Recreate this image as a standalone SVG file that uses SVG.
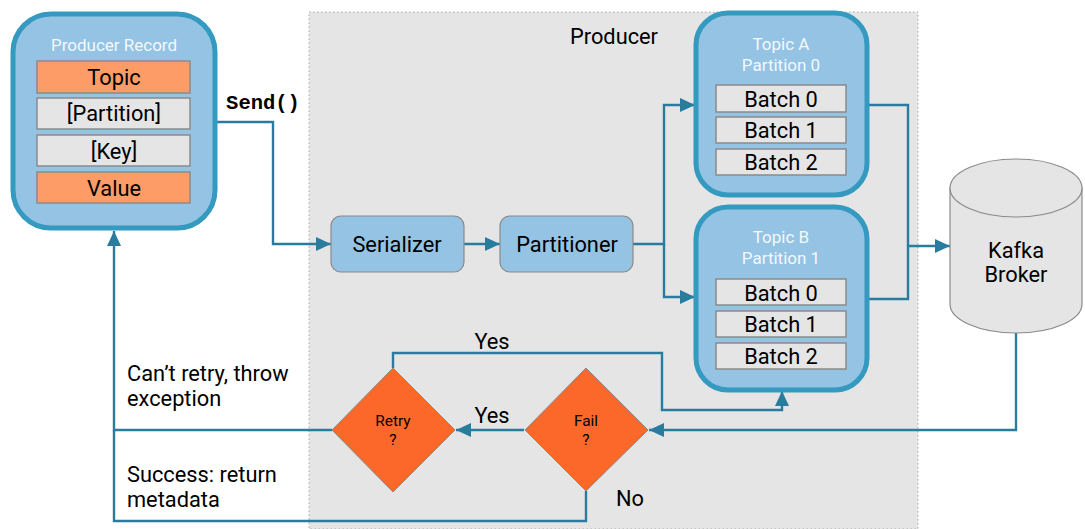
<svg xmlns="http://www.w3.org/2000/svg" width="1085" height="529" viewBox="0 0 1085 529">
<defs>
<style>
text{font-family:Roboto,"Liberation Sans",sans-serif;text-anchor:middle;fill:#000}
.big{fill:#95c3e4;stroke:#349abf;stroke-width:5}
.inner{fill:#e5e5e5;stroke:#8a8a8a;stroke-width:1.5}
.or{fill:#fd9c66;stroke:#8a8a8a;stroke-width:1.5}
.small{fill:#95c3e4;stroke:#8a8a8a;stroke-width:1.2}
.dia{fill:#fc6829;stroke:#8a8a8a;stroke-width:1}
.w{fill:#f3f8fc;font-size:17px}
.t{font-size:21.8px}
.l{font-size:21.8px}
.d{font-size:15.4px}
.left{text-anchor:start}
.c{fill:none;stroke:#2a7c9e;stroke-width:2.4}
.h{fill:#2a7c9e;stroke:none}
</style>
<marker id="arr" markerUnits="userSpaceOnUse" markerWidth="16" markerHeight="14" refX="15" refY="7" orient="auto"><path class="h" d="M0 0L15 7L0 14Z"/></marker>
</defs>
<g id="producer-area"><rect x="309" y="12" width="609" height="517" fill="#e5e5e5" stroke="#a8a8a8" stroke-width="1" stroke-dasharray="1.5 2.5"/><text class="l" x="614" y="44">Producer</text></g>
<g id="connectors">
<path class="c" d="M216 122H273V244H331" marker-end="url(#arr)"/>
<path class="c" d="M464 244H500" marker-end="url(#arr)"/>
<path class="c" d="M633 244H664V105H695" marker-end="url(#arr)"/>
<path class="c" d="M664 244V297H695" marker-end="url(#arr)"/>
<path class="c" d="M868 105H908V299H868"/>
<path class="c" d="M908 246H950" marker-end="url(#arr)"/>
<path class="c" d="M1016 333V430H649" marker-end="url(#arr)"/>
<path class="c" d="M524 430H456" marker-end="url(#arr)"/>
<path class="c" d="M393 368V353H662V410H782V391" marker-end="url(#arr)"/>
<path class="c" d="M332 430H114V231" marker-end="url(#arr)"/>
<path class="c" d="M586 491V521H114V430"/>
</g>
<g id="producer-record">
<rect class="big" x="13" y="14" width="202" height="214" rx="38"/>
<text class="w" x="114" y="51">Producer Record</text>
<rect class="or" x="37" y="61" width="153" height="32"/><text class="t" x="114" y="85">Topic</text>
<rect class="inner" x="37" y="98" width="153" height="31"/><text class="t" x="114" y="121">[Partition]</text>
<rect class="inner" x="37" y="135" width="153" height="31"/><text class="t" x="114" y="158.500">[Key]</text>
<rect class="or" x="37" y="172" width="153" height="31"/><text class="t" x="114" y="196">Value</text>
</g>
<g id="send-label"><text x="263" y="109" style="font-family:'Liberation Mono',monospace;font-weight:700;font-size:20.5px">Send()</text></g>
<g id="serializer"><rect class="small" x="331" y="216" width="133" height="56" rx="10"/><text class="t" x="397" y="252">Serializer</text></g>
<g id="partitioner"><rect class="small" x="500" y="216" width="133" height="56" rx="10"/><text class="t" x="567" y="252">Partitioner</text></g>
<g id="topic-a">
<rect class="big" x="696" y="13" width="171" height="182" rx="32"/>
<text class="w" x="781" y="50">Topic A</text><text class="w" x="781" y="71">Partition 0</text>
<rect class="inner" x="716" y="85" width="130" height="27"/><text class="t" x="781" y="107">Batch 0</text>
<rect class="inner" x="716" y="117" width="130" height="26"/><text class="t" x="781" y="138">Batch 1</text>
<rect class="inner" x="716" y="149" width="130" height="26"/><text class="t" x="781" y="170">Batch 2</text>
</g>
<g id="topic-b">
<rect class="big" x="696" y="207" width="171" height="183" rx="32"/>
<text class="w" x="781" y="243">Topic B</text><text class="w" x="781" y="264">Partition 1</text>
<rect class="inner" x="716" y="279" width="130" height="26"/><text class="t" x="781" y="301">Batch 0</text>
<rect class="inner" x="716" y="311" width="130" height="26"/><text class="t" x="781" y="332">Batch 1</text>
<rect class="inner" x="716" y="343" width="130" height="26"/><text class="t" x="781" y="364">Batch 2</text>
</g>
<g id="kafka-broker">
<path d="M950 188V304A66 29 0 0 0 1082 304V188Z" fill="#e5e5e5" stroke="#8a8a8a" stroke-width="1.2"/>
<ellipse cx="1016" cy="188" rx="66" ry="29" fill="#e5e5e5" stroke="#8a8a8a" stroke-width="1.2"/>
<text class="t" x="1016" y="258">Kafka</text><text class="t" x="1016" y="282">Broker</text>
</g>
<g id="retry"><path class="dia" d="M393 368L455 430L393 492L332 430Z"/><text class="d" x="393" y="426">Retry</text><text class="d" x="393" y="445">?</text></g>
<g id="fail"><path class="dia" d="M586 368L648 430L586 491L525 430Z"/><text class="d" x="586" y="426">Fail</text><text class="d" x="586" y="445">?</text></g>
<g id="labels">
<text class="l" x="492" y="349">Yes</text>
<text class="l" x="492" y="423">Yes</text>
<text class="l" x="630" y="506">No</text>
<text class="l left" x="127" y="381">Can’t retry, throw</text>
<text class="l left" x="127" y="406">exception</text>
<text class="l left" x="127" y="482">Success: return</text>
<text class="l left" x="127" y="507">metadata</text>
</g>
</svg>
